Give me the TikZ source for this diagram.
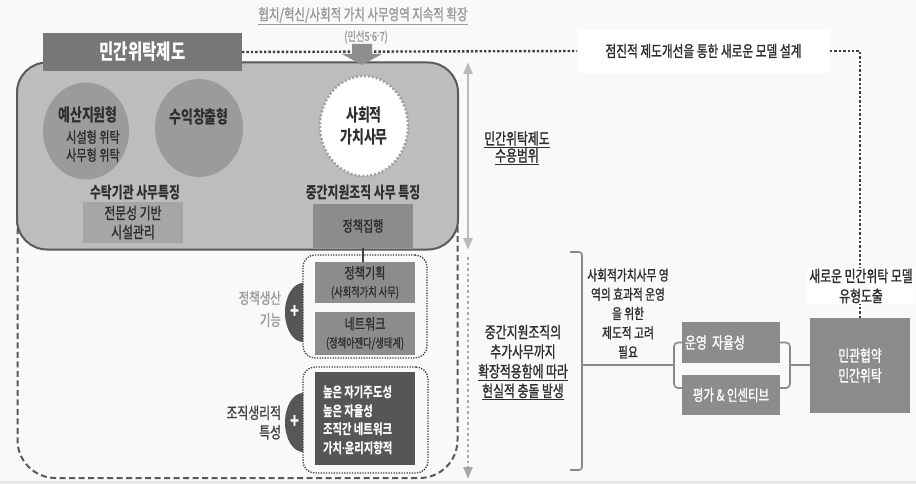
\documentclass[tikz,border=0pt]{standalone}
\usepackage{fontspec}
\setmainfont{Noto Sans CJK KR}[FakeStretch=0.74, UprightFeatures={FakeBold=1.2}]
\newfontfamily\dotfont{Noto Sans}
\usetikzlibrary{shapes.geometric,arrows.meta}
\definecolor{bg}{HTML}{F9F9F9}
\definecolor{bigfill}{HTML}{BDBDBD}
\definecolor{bigdraw}{HTML}{5A5A5A}
\definecolor{titlefill}{HTML}{777777}
\definecolor{ellfill}{HTML}{9B9B9B}
\definecolor{midfill}{HTML}{8C8C8C}
\definecolor{lightfill}{HTML}{A6A6A6}
\definecolor{darkfill}{HTML}{565656}
\definecolor{txtdark}{HTML}{2E2E2E}
\definecolor{txtgray}{HTML}{9A9A9A}
\definecolor{txtmid}{HTML}{444444}
\definecolor{dotline}{HTML}{404040}
\definecolor{arrowgray}{HTML}{BBBBBB}
\definecolor{dotgray}{HTML}{A8A8A8}
\definecolor{blockarrow}{HTML}{8E8E8E}
\definecolor{brkgray}{HTML}{8A8A8A}
\definecolor{circdot}{HTML}{A0A0A0}
\definecolor{bottomgray}{HTML}{E4E4E4}
\newcommand\fsz[2]{\fontsize{#1}{#2}\selectfont}
\newcommand\mdot{{\dotfont\kern-0.5pt·\kern-0.5pt}}
\begin{document}
\begin{tikzpicture}[x=1pt,y=-1pt,
  every node/.style={inner sep=0pt, outer sep=0pt},
  txt/.style={text=txtdark, align=center},
  wtxt/.style={text=white, align=center},
  dotbig/.style={draw=dotline, line width=2.4pt, dash pattern=on 2.4pt off 2pt},
  dotfine/.style={draw=dotline, line width=1.3pt, dash pattern=on 1.3pt off 1.3pt, rounded corners=12pt},
  brkline/.style={draw=brkgray, line width=1.6pt, rounded corners=3pt},
  bump/.style={fill=darkfill},
  rangetip/.tip={Triangle[width=9pt,length=12pt]}
]
% background
\fill[bg] (0,0) rectangle (916,484);
\useasboundingbox (0,0) rectangle (916,484);
\fill[bottomgray] (0,481) rectangle (916,484);

% outer dashed frame and main box
\node[draw=bigdraw, line width=2pt, dash pattern=on 6pt off 3.5pt, rounded corners=38pt,
      minimum width=440pt, minimum height=415pt] (outer) at (237.5,270.5) {};
\node[draw=bigdraw, line width=2pt, fill=bigfill, rounded corners=30pt,
      minimum width=441pt, minimum height=187pt] (big) at (237.5,156) {};

% title box
\node[fill=titlefill, minimum width=199pt, minimum height=38pt, wtxt,
      font=\bfseries\fsz{21}{24}] (mw) at (142.5,52) {민간위탁제도};

% model box and right-hand result
\node[fill=white, minimum width=253pt, minimum height=44pt, txt,
      font=\fsz{15.8}{18}] (modl) at (703.5,51) {점진적 제도개선을 통한 새로운 모델 설계};
\node[fill=midfill, minimum width=100pt, minimum height=95pt, wtxt,
      font=\fsz{16}{20}] (mg) at (860,365.5) {민관협약\\민간위탁};

% dotted connectors on top
\draw[dotbig] (mw.east) -- (modl.west);
\draw[dotbig] (modl.east) -| (mg.north);
\node[fill=white, inner xsep=2pt, inner ysep=1pt, txt, font=\fsz{16}{20}] (nl) at (861,286)
      {새로운 민간위탁 모델\\유형도출};

% top heading
\node[text=txtgray, font=\fsz{15.5}{18}] (ttl) at (363,16) {\underline{협치/혁신/사회적 가치 사무영역 지속적 확장}};
\node[text=txtgray, font=\fsz{12.5}{14}] (ms) at (366,37) {(민선5\mdot6\mdot7)};
\fill[blockarrow] (352,44) -- (372,44) -- (372,54) -- (382,54) -- (362,65) -- (342,54) -- (352,54) -- cycle;

% ellipses
\node[ellipse, fill=ellfill, minimum width=86pt, minimum height=97pt] (e1) at (86,131) {};
\node[txt, font=\bfseries\fsz{17.5}{20}] (e1a) at (88,115) {예산지원형};
\node[txt, font=\fsz{15}{18}] (e1b) at (93,146) {시설형 위탁\\사무형 위탁};
\node[ellipse, fill=ellfill, minimum width=88pt, minimum height=98pt] (e2) at (199,128) {};
\node[txt, font=\bfseries\fsz{17.5}{20}] (e2a) at (199,117) {수익창출형};
\node[ellipse, fill=white, draw=circdot, line width=2.5pt, dash pattern=on 2pt off 2pt,
      minimum width=88pt, minimum height=100pt] (sv) at (364,126) {};
\node[txt, font=\bfseries\fsz{17.5}{22}] (sva) at (364,126) {사회적\\가치사무};

% features
\node[txt, font=\bfseries\fsz{16}{18}] (sth) at (135,193) {수탁기관 사무특징};
\node[txt, font=\bfseries\fsz{16}{18}] (jgh) at (363,193) {중간지원조직 사무 특징};
\node[fill=lightfill, minimum width=100pt, minimum height=41pt, txt,
      font=\fsz{16}{19}] (jm) at (133,222.5) {전문성 기반\\시설관리};
\node[fill=midfill, minimum width=100pt, minimum height=44pt, txt,
      font=\fsz{15}{17}] (jh) at (363,226) {정책집행};

% policy production group
\node[dotfine, minimum width=124pt, minimum height=103pt] (g1) at (365,306.5) {};
\node[fill=midfill, minimum width=100pt, minimum height=41pt, txt,
      font=\fsz{15}{18}] (gh) at (365,282.5) {정책기획\\{\fsz{12.5}{18}(사회적가치 사무)}};
\node[fill=midfill, minimum width=100pt, minimum height=43pt, txt,
      font=\fsz{15}{18}] (nw) at (365,333.5) {네트워크\\{\fsz{12.5}{18}(정책아젠다/생태계)}};
\draw[draw=dotline, line width=1.5pt] (jh.south) -- (jh.south |- gh.north);

\fill[bump] (303,283) .. controls (293.06,283) and (285,296.21) .. (285,312.5)
             .. controls (285,328.79) and (293.06,342) .. (303,342) -- cycle;
\node[wtxt, font=\bfseries\fsz{20}{20}] (pl1) at (295,312) {+};
\node[anchor=east, align=right, text=txtgray, font=\fsz{15.5}{22}] (jsl) at (281,309) {정책생산\\기능};

% organisational traits group
\node[dotfine, minimum width=125pt, minimum height=106pt] (g2) at (365.5,420) {};
\node[fill=darkfill, minimum width=100pt, minimum height=93pt] (ot) at (365,418.5) {};
\node[anchor=west, align=left, text=white, font=\bfseries\fsz{14}{18.5}] (ott) at (323,420.5)
      {높은 자기주도성\\높은 자율성\\조직간 네트워크\\가치\mdot 윤리지향적};
\fill[bump] (303,393) .. controls (293.06,393) and (285,406.21) .. (285,422.5)
             .. controls (285,438.79) and (293.06,452) .. (303,452) -- cycle;
\node[wtxt, font=\bfseries\fsz{20}{20}] (pl2) at (295,422) {+};
\node[anchor=east, align=right, text=txtmid, font=\fsz{16}{19.5}] (jsr) at (281,422.5) {조직생리적\\특성};

% range arrows
\coordinate (rt) at (468,62);
\coordinate (rb) at (468,250);
\draw[draw=arrowgray, line width=2.5pt, {rangetip}-{rangetip}] (rt) -- (rb);
\coordinate (dt) at (468,257);
\coordinate (db) at (468,479);
\draw[draw=dotgray, line width=2.5pt, dash pattern=on 2.5pt off 3pt, -{rangetip}] (dt) -- (db);

\node[txt, font=\fsz{16}{17}] (sy) at (517,148) {\underline{민간위탁제도}\\\underline{수용범위}};
\node[txt, font=\fsz{16}{19.6}] (cf) at (523,362.5)
      {중간지원조직의\\추가사무까지\\\underline{확장적용함에 따라}\\\underline{현실적 충돌 발생}};

% bracket and chain
\coordinate (b1) at (570,252);
\coordinate (b2) at (570,470);
\coordinate (bm) at (582,365);
\coordinate (sbl) at (674,365);
\draw[brkline] (b1) -- (582,252) -- (582,470) -- (b2);
\draw[brkline] (bm) -- (sbl);
\node[txt, font=\fsz{14.5}{19.25}] (sg) at (628,313.5)
      {사회적가치사무 영\\역의 효과적 운영\\을 위한\\제도적 고려\\필요};

\node[fill=midfill, minimum width=98pt, minimum height=41pt, text width=92pt, inner xsep=3pt,
      align=left, text=white, font=\fsz{16}{17}] (au) at (731,342.5) {운영 자율성};
\node[fill=midfill, minimum width=98pt, minimum height=40pt, wtxt,
      font=\fsz{15.5}{17}] (pe) at (731,395) {평가 \& 인센티브};
\coordinate (pl) at (682,388);
\coordinate (pr) at (780,388);
\coordinate (rbm) at (790,365);
\draw[brkline, rounded corners=4pt] (au.west) -- (674,342.5) -- (674,388) -- (pl);
\draw[brkline, rounded corners=4pt] (au.east) -- (790,342.5) -- (790,388) -- (pr);
\draw[brkline] (rbm) -- (mg.west |- rbm);
\end{tikzpicture}
\end{document}
